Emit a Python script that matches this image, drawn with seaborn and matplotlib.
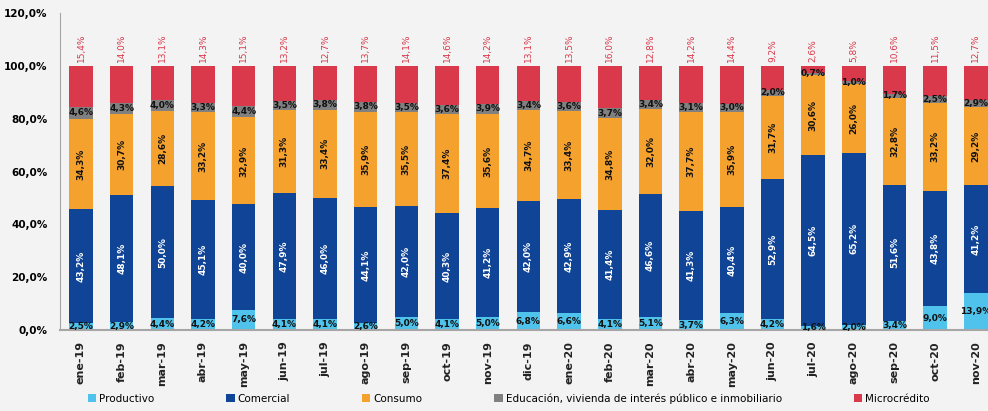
import pandas as pd
import seaborn as sns
import matplotlib.pyplot as plt
import matplotlib as mpl
from matplotlib.patches import Patch
mpl.use("Agg")

meses = ['ene-19', 'feb-19', 'mar-19', 'abr-19', 'may-19', 'jun-19', 'jul-19', 'ago-19',
         'sep-19', 'oct-19', 'nov-19', 'dic-19', 'ene-20', 'feb-20', 'mar-20', 'abr-20',
         'may-20', 'jun-20', 'jul-20', 'ago-20', 'sep-20', 'oct-20', 'nov-20']
productivo = [2.5, 2.9, 4.4, 4.2, 7.6, 4.1, 4.1, 2.6, 5.0, 4.1, 5.0, 6.8, 6.6, 4.1, 5.1, 3.7,
              6.3, 4.2, 1.6, 2.0, 3.4, 9.0, 13.9]
comercial = [43.2, 48.1, 50.0, 45.1, 40.0, 47.9, 46.0, 44.1, 42.0, 40.3, 41.2, 42.0, 42.9, 41.4,
             46.6, 41.3, 40.4, 52.9, 64.5, 65.2, 51.6, 43.8, 41.2]
consumo = [34.3, 30.7, 28.6, 33.2, 32.9, 31.3, 33.4, 35.9, 35.5, 37.4, 35.6, 34.7, 33.4, 34.8,
           32.0, 37.7, 35.9, 31.7, 30.6, 26.0, 32.8, 33.2, 29.2]
educacion = [4.6, 4.3, 4.0, 3.3, 4.4, 3.5, 3.8, 3.8, 3.5, 3.6, 3.9, 3.4, 3.6, 3.7, 3.4, 3.1,
             3.0, 2.0, 0.7, 1.0, 1.7, 2.5, 2.9]
microcredito = [15.4, 14.0, 13.1, 14.3, 15.1, 13.2, 12.7, 13.7, 14.1, 14.6, 14.2, 13.1, 13.5,
                16.0, 12.8, 14.2, 14.4, 9.2, 2.6, 5.8, 10.6, 11.5, 12.7]

series = ['Productivo', 'Comercial', 'Consumo',
          'Educación, vivienda de interés público e inmobiliario', 'Microcrédito']
colores = ['#4fc3ec', '#0f4496', '#f4a12e', '#808080', '#d9394b']

df = pd.DataFrame({'mes': meses, series[0]: productivo, series[1]: comercial,
                   series[2]: consumo, series[3]: educacion, series[4]: microcredito})
cum = df[series].cumsum(axis=1)
for s in series:
    df['cum_' + s] = cum[s]

def fmt(v):
    return f'{v:.1f}%'.replace('.', ',')

bg = '#f3f3f3'
fig = plt.figure(figsize=(9.88, 4.11), dpi=100, facecolor=bg)
ax = fig.add_axes([0.0607, 0.197, 0.9393, 0.771], facecolor=bg)

# stacked bars: draw cumulative totals from the top down
for s, c in reversed(list(zip(series, colores))):
    sns.barplot(data=df, x='mes', y='cum_' + s, color=c, saturation=1, width=0.58,
                ax=ax, linewidth=0)

fs = 6.5
for i in range(len(meses)):
    p, co, cs, ed, mi = productivo[i], comercial[i], consumo[i], educacion[i], microcredito[i]
    ax.text(i, p / 2, fmt(p), ha='center', va='center', fontsize=fs, fontweight='bold',
            color='#111111')
    ax.text(i, p + co / 2, fmt(co), ha='center', va='center', rotation=90, fontsize=fs,
            fontweight='bold', color='white')
    ax.text(i, p + co + cs / 2, fmt(cs), ha='center', va='center', rotation=90, fontsize=fs,
            fontweight='bold', color='#111111')
    ax.text(i, p + co + cs + ed / 2, fmt(ed), ha='center', va='center', fontsize=fs,
            fontweight='bold', color='#111111')
    ax.text(i, 101.5, fmt(mi), ha='center', va='bottom', rotation=90, fontsize=fs,
            color='#d9394b')

ax.set_ylim(0, 120)
ax.set_xlim(-0.516, 22.3)
ax.set_yticks(range(0, 121, 20))
ax.set_yticklabels([fmt(v) for v in range(0, 121, 20)], fontsize=7.5, fontweight='bold')
ax.tick_params(axis='y', length=0, pad=9)
ax.tick_params(axis='x', length=0, pad=8)
ax.set_xticks(range(len(meses)))
ax.set_xticklabels(meses, rotation=90, fontsize=8, fontweight='bold', color='#222222')
ax.set_xlabel('')
ax.set_ylabel('')
for side in ['top', 'right']:
    ax.spines[side].set_visible(False)
ax.spines['left'].set_color('#a6a6a6')
ax.spines['bottom'].set_color('#a6a6a6')
ax.spines['bottom'].set_linewidth(1.5)

handles = [Patch(facecolor=c, edgecolor='none', label=s) for s, c in zip(series, colores)]
fig.legend(handles=handles, loc='lower center', bbox_to_anchor=(0.515, -0.005), ncol=5,
           frameon=False, fontsize=7.5, handlelength=0.8, handleheight=0.8,
           handletextpad=0.3, columnspacing=6.9)

fig.savefig('out.png', dpi=100, facecolor=bg)
